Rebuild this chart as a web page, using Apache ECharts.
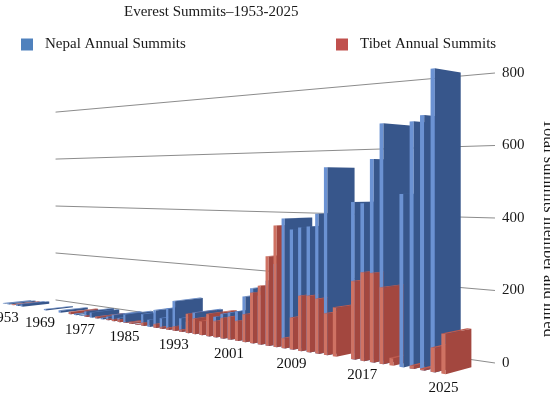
<!DOCTYPE html>
<html>
<head>
<meta charset="utf-8">
<script src="https://cdn.jsdelivr.net/npm/echarts@6/dist/echarts.min.js"></script>
<style>
html,body{margin:0;padding:0;background:#fff;}
#chart{width:550px;height:400px;}
</style>
</head>
<body>
<div id="chart"></div>
<script>
// ---------- data ----------
const years = ['1953','1956','1960','1963','1965','1966','1967','1968',
  '1969','1970','1971','1972','1973','1974','1975','1976','1977','1978','1979','1980',
  '1981','1982','1983','1984','1985','1986','1987','1988','1989','1990',
  '1991','1992','1993','1994','1995','1996','1997','1998','1999','2000',
  '2001','2002','2003','2004','2005','2006','2007','2008','2009','2010',
  '2011','2012','2013','2014','2015','2016','2017','2018','2019','2020',
  '2021','2022','2023','2024','2025'];
const nepal = [2,4,0,6,9,0,0,0,
  0,4,0,0,8,0,6,4,2,20,18,6,
  5,13,22,14,30,2,1,40,24,60,
  36,71,100,45,36,70,40,48,66,78,
  85,92,142,170,150,198,251,390,358,365,
  369,407,542,0,0,443,440,563,660,0,
  467,661,676,797,0];
const tibet = [0,0,3,0,0,0,0,0,
  0,0,0,0,0,0,9,0,0,4,0,6,
  0,4,6,8,1,4,1,10,0,12,
  5,6,14,6,63,50,45,72,52,65,
  72,62,86,156,180,273,368,30,95,163,
  165,159,120,140,0,220,247,247,210,20,
  0,8,4,64,104];
const yTicks = [0,200,400,600,800];
const labelEvery = 8;

// ---------- perspective (styling / camera) ----------
const CAM = {cx:449, bx:11, c1:0.0092, bz:26.6, c2:0.038, hor:184, sv:0.3862, hy:190.7, zw:1.722, xEnd:65, wallStart:2};
function proj(X, Z, V) {
  const m = CAM.xEnd - X;
  const w = 1 + CAM.c1 * m + CAM.c2 * Z;
  return [CAM.cx + (-m * CAM.bx + Z * CAM.bz) / w, CAM.hor - (CAM.sv * V - CAM.hy) / w];
}
const SERIF = '"Liberation Serif","Times New Roman",serif';
const BLUE = {strip:'#6b92d3', face:'#37568b', top:'#5a80c2'};
const RED  = {strip:'#cf7263', face:'#a3473f', top:'#bd5a4e'};

function toWorld(api, i, val) {
  const o = api.coord([0, 0]);
  const p = api.coord([i, val]);
  const band = api.size([1, 0])[0];
  const unit = api.size([0, 1])[1];
  return {X: (p[0] - o[0]) / band + 0.5, V: (o[1] - p[1]) / unit};
}

function barRender(colors, zOff) {
  return function (params, api) {
    const i = api.value(0), val = api.value(1);
    if (!val) return null;
    const g = toWorld(api, i, val);
    const X0 = g.X - 0.2, X1 = g.X + 0.2, V = g.V;
    const base = i * 10 + zOff;
    const children = [];
    children.push({type:'polygon', z2: base, shape:{points:[proj(X0,0,0),proj(X1,0,0),proj(X1,0,V),proj(X0,0,V)]},
      style:{fill:colors.strip}});
    if (V < CAM.hy / CAM.sv) {
      children.push({type:'polygon', z2: base + 1, shape:{points:[proj(X0,0,V),proj(X1,0,V),proj(X1,1,V),proj(X0,1,V)]},
        style:{fill:colors.top}});
    }
    children.push({type:'polygon', z2: base + 2, shape:{points:[proj(X1,0,0),proj(X1,1,0),proj(X1,1,V),proj(X1,0,V)]},
      style:{fill:colors.face}});
    return {type:'group', children};
  };
}

const chart = echarts.init(document.getElementById('chart'), null, {renderer:'canvas'});
chart.setOption({
  animation: false,
  backgroundColor: '#fff',
  title: {text:'Everest Summits\u20131953-2025', left:119, top:0,
    textStyle:{fontFamily:SERIF, fontSize:15, fontWeight:'normal', color:'#1a1a1a'}},
  legend: [
    {data:['Nepal Annual Summits'], left:16, top:32, itemWidth:12, itemHeight:12, icon:'rect',
      textStyle:{fontFamily:SERIF, fontSize:15, color:'#1a1a1a', padding:[0,0,0,7]}},
    {data:['Tibet Annual Summits'], left:331, top:32, itemWidth:12, itemHeight:12, icon:'rect',
      textStyle:{fontFamily:SERIF, fontSize:15, color:'#1a1a1a', padding:[0,0,0,7]}}
  ],
  grid: {left:0, right:55, top:73, bottom:37, containLabel:false, outerBoundsMode:'none'},
  xAxis: {type:'category', data:years, show:false},
  yAxis: {type:'value', min:0, max:800, interval:200, position:'right',
    axisLine:{show:false}, axisTick:{show:false}, splitLine:{show:false},
    axisLabel:{margin:7, fontFamily:SERIF, fontSize:15, color:'#1a1a1a'},
    name:'Total summits member and hired', nameLocation:'middle', nameRotate:-90, nameGap:45,
    nameTextStyle:{fontFamily:SERIF, fontSize:16.5, color:'#1a1a1a', padding:[0,0,0,20]}},
  series: [
    {type:'custom', name:'wall', z:1, silent:true,
      data: yTicks.map(v => [0, v]),
      renderItem: function (params, api) {
        const g = toWorld(api, 0, api.value(1));
        const a = proj(CAM.wallStart, CAM.zw, g.V), b = proj(CAM.xEnd, CAM.zw, g.V);
        return {type:'line', shape:{x1:a[0], y1:a[1], x2:b[0] + 3, y2:b[1]},
          style:{stroke:'#8c8c8c', lineWidth:1}};
      }},
    {type:'custom', name:'Nepal Annual Summits', z:2, itemStyle:{color:'#4f81bd'},
      data: nepal.map((v, i) => [i, v]), renderItem: barRender(BLUE, 0)},
    {type:'custom', name:'Tibet Annual Summits', z:2, itemStyle:{color:'#c0504d'},
      data: tibet.map((v, i) => [i, v]), renderItem: barRender(RED, 5)},
    {type:'custom', name:'labels', z:3, silent:true,
      data: years.map((y, i) => [i, 0]).filter((d) => d[0] % labelEvery === 0),
      renderItem: function (params, api) {
        const i = api.value(0);
        const g = toWorld(api, i, 0);
        const p = proj(g.X, 0, 0);
        return {type:'text', style:{text:years[i], x:p[0], y:p[1] + 14, align:'center', verticalAlign:'middle',
          font:'15px ' + SERIF, fill:'#111'}};
      }}
  ]
});
</script>
</body>
</html>
